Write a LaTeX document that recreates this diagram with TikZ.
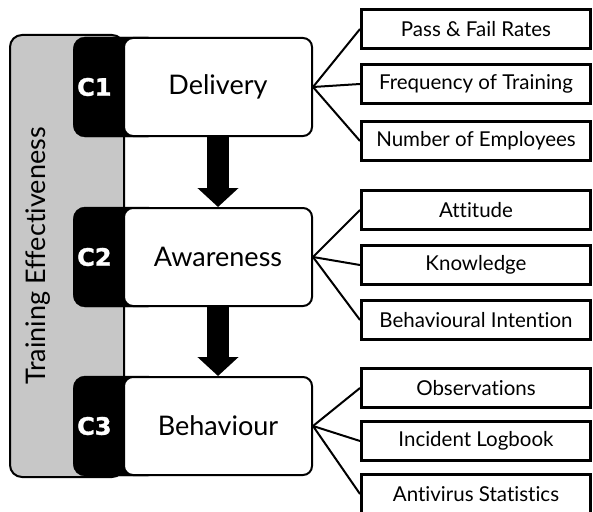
\documentclass[tikz,border=0pt]{standalone}
\usepackage{fontspec}
\setmainfont{Lato}[Ligatures=NoCommon]
\newfontfamily\tabfont{DejaVu Sans}[BoldFeatures={FakeBold=1.5}]
\usetikzlibrary{positioning,arrows.meta}

\tikzset{
  panel/.style={draw, line width=2pt, fill=black!22, rounded corners=12pt,
    minimum width=114pt, minimum height=442pt},
  tab/.style={draw, fill=black, rounded corners=12pt, anchor=west,
    minimum width=87pt, minimum height=100pt, inner xsep=4pt,
    text width=79pt, align=left, text=white,
    font=\tabfont\bfseries\fontsize{24}{24}\selectfont},
  stage/.style={draw, line width=2pt, fill=white, rounded corners=9pt, anchor=west,
    minimum width=188pt, minimum height=98pt, font=\fontsize{27}{27}\selectfont},
  metric/.style={draw, line width=3pt, fill=white,
    minimum width=229pt, minimum height=39pt, font=\fontsize{20.5}{20.5}\selectfont},
  flow/.style={line width=22pt, -{Triangle[length=19pt,width=40pt]}},
  fan/.style={line width=2pt}
}

\begin{document}
\begin{tikzpicture}[x=1pt, y=-1pt, node distance=13pt]
  \useasboundingbox (0,0) rectangle (593,511);

  % grey band behind the three stages
  \node[panel] (panel) at (67,256) {};
  \node[rotate=90, font=\fontsize{27}{27}\selectfont] (title) at (38,256) {Training Effectiveness};

  % stages
  \node[tab] (c1) at (73,87) {C1};
  \node[tab] (c2) at (73,257) {C2};
  \node[tab] (c3) at (73,426) {C3};
  \node[stage] (delivery) at (123,87) {Delivery};
  \node[stage] (awareness) at (123,257) {Awareness};
  \node[stage] (behaviour) at (123,426) {Behaviour};

  \draw[flow] (delivery.south) -- (awareness.north);
  \draw[flow] (awareness.south) -- (behaviour.north);

  % measures for each stage
  \node[metric] (rates) at (476,29) {Pass \& Fail Rates};
  \node[metric] (frequency) [below=of rates] {Frequency of Training};
  \node[metric] (employees) [below=15pt of frequency] {Number of Employees};

  \node[metric] (attitude) at (476,210) {Attitude};
  \node[metric] (knowledge) [below=of attitude] {Knowledge};
  \node[metric] (intention) [below=of knowledge] {Behavioural Intention};

  \node[metric] (observations) at (476,388) {Observations};
  \node[metric] (logbook) [below=11pt of observations] {Incident Logbook};
  \node[metric] (antivirus) [below=11pt of logbook] {Antivirus Statistics};

  \foreach \m in {rates,frequency,employees}
    \draw[fan] (delivery.east) -- (\m.west);
  \foreach \m in {attitude,knowledge,intention}
    \draw[fan] (awareness.east) -- (\m.west);
  \foreach \m in {observations,logbook,antivirus}
    \draw[fan] (behaviour.east) -- (\m.west);
\end{tikzpicture}
\end{document}
